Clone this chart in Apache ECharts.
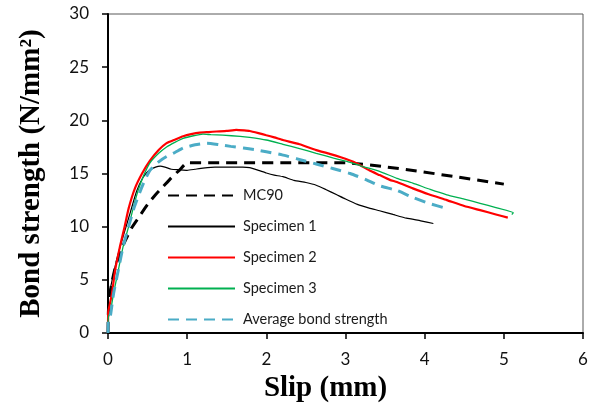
<!DOCTYPE html>
<html><head><meta charset="utf-8">
<script src="https://cdn.jsdelivr.net/npm/echarts@6/dist/echarts.min.js"></script>
<style>html,body{margin:0;padding:0;background:#fff}#c{width:606px;height:408px}</style>
</head><body><div id="c"></div>
<script>
const xTicks = [0, 1, 2, 3, 4, 5, 6];
const yTicks = [0, 5, 10, 15, 20, 25, 30];
const seriesNames = ['MC90', 'Specimen 1', 'Specimen 2', 'Specimen 3', 'Average bond strength'];

const mc90 = [[0,0],[0.005,2.0],[0.02,3.4],[0.05,4.8],[0.1,6.4],[0.2,8.4],[0.3,9.9],[0.4,11.0],[0.5,12.1],[0.6,13.0],[0.7,13.8],[0.8,14.6],[0.9,15.3],[1.0,16.0],[3.0,16.0],[5.0,14.0]];

const specimen1 = [[0,0],[0.003,3.4],[0.03,4.2],[0.07,5.6],[0.12,7.2],[0.2,9.3],[0.28,11.3],[0.36,13.3],[0.44,14.6],[0.52,15.3],[0.6,15.6],[0.66,15.7],[0.72,15.6],[0.8,15.4],[0.9,15.35],[1.0,15.3],[1.1,15.4],[1.2,15.5],[1.35,15.6],[1.5,15.6],[1.7,15.6],[1.79,15.55],[1.9,15.3],[2.0,15.05],[2.1,14.85],[2.21,14.7],[2.35,14.35],[2.5,14.15],[2.63,13.9],[2.75,13.5],[2.89,13.0],[3.0,12.6],[3.15,12.1],[3.3,11.75],[3.43,11.5],[3.6,11.15],[3.77,10.8],[3.95,10.55],[4.11,10.3]];

const specimen2 = [[0,0],[0.003,2.0],[0.02,2.6],[0.05,3.7],[0.09,5.9],[0.15,8.1],[0.21,10.0],[0.26,11.7],[0.34,13.6],[0.43,15.0],[0.53,16.2],[0.64,17.2],[0.74,17.85],[0.85,18.2],[0.95,18.5],[1.05,18.7],[1.16,18.85],[1.27,18.9],[1.37,18.95],[1.5,19.0],[1.62,19.1],[1.72,19.05],[1.79,19.0],[1.9,18.8],[2.0,18.6],[2.1,18.4],[2.21,18.15],[2.42,17.75],[2.63,17.2],[2.8,16.85],[2.95,16.5],[3.1,16.1],[3.18,15.8],[3.3,15.3],[3.43,14.85],[3.56,14.4],[3.65,14.2],[3.85,13.6],[4.05,13.05],[4.28,12.5],[4.5,11.95],[4.7,11.55],[4.9,11.15],[5.05,10.85]];

const specimen3 = [[0,0],[0.005,1.5],[0.03,2.0],[0.07,3.7],[0.13,5.9],[0.19,8.1],[0.26,10.0],[0.32,11.8],[0.38,13.4],[0.45,14.8],[0.53,16.0],[0.64,16.9],[0.74,17.5],[0.85,17.95],[0.95,18.3],[1.08,18.55],[1.2,18.7],[1.3,18.65],[1.45,18.6],[1.67,18.5],[1.79,18.4],[2.0,18.15],[2.21,17.75],[2.42,17.35],[2.63,16.9],[2.85,16.45],[3.06,16.05],[3.2,15.7],[3.43,15.2],[3.65,14.55],[3.85,14.1],[4.07,13.5],[4.28,13.0],[4.5,12.6],[4.7,12.2],[4.9,11.8],[5.12,11.3],[5.1,11.15]];

const average = [[0,0],[0.005,1.2],[0.03,1.6],[0.07,3.7],[0.13,5.9],[0.19,8.1],[0.26,10.0],[0.33,11.8],[0.4,13.2],[0.46,14.3],[0.53,15.3],[0.64,16.1],[0.74,16.6],[0.85,17.0],[0.95,17.4],[1.1,17.7],[1.25,17.85],[1.41,17.7],[1.55,17.55],[1.71,17.4],[1.85,17.25],[2.0,17.05],[2.2,16.75],[2.38,16.4],[2.5,16.15],[2.63,15.9],[2.85,15.45],[3.06,15.0],[3.25,14.45],[3.43,13.85],[3.65,13.4],[3.85,12.75],[4.05,12.2],[4.28,11.7]];

const chart = echarts.init(document.getElementById('c'), null, {renderer: 'canvas'});
const tickFont = {fontFamily: 'Lato', fontSize: 17, color: '#111'};
const nameFont = {fontFamily: 'Liberation Serif', fontWeight: 'bold', fontSize: 29, color: '#000'};
function line(name, data, color, width, type) {
  return {name, type: 'line', data, symbol: 'none', showSymbol: false, smooth: 0.15,
    lineStyle: {color, width, type}, itemStyle: {color}, animation: false};
}
chart.setOption({
  animation: false,
  grid: {left: 108, right: 23, top: 14, bottom: 75, show: true, borderColor: '#595959', borderWidth: 1},
  xAxis: {type: 'value', min: xTicks[0], max: xTicks[xTicks.length-1], interval: 1,
    name: 'Slip (mm)', nameLocation: 'middle', nameGap: 41,
    nameTextStyle: {...nameFont, padding: [0, 40, 0, 0]},
    axisLine: {show: true, onZero: false, lineStyle: {color: '#000', width: 2}},
    axisTick: {show: true, inside: false, length: 6, lineStyle: {color: '#000', width: 1.5}},
    axisLabel: {...tickFont, margin: 18},
    splitLine: {show: false}},
  yAxis: {type: 'value', min: yTicks[0], max: yTicks[yTicks.length-1], interval: 5,
    name: 'Bond strength (N/mm²)', nameLocation: 'middle', nameGap: 62, nameTextStyle: nameFont,
    axisLine: {show: true, onZero: false, lineStyle: {color: '#000', width: 2}},
    axisTick: {show: true, inside: false, length: 6, lineStyle: {color: '#000', width: 1.5}},
    axisLabel: {...tickFont, margin: 19},
    splitLine: {show: false}},
  legend: {orient: 'vertical', left: 167, top: 188, padding: 0, itemWidth: 67, itemHeight: 14, itemGap: 16,
    data: seriesNames, itemStyle: {opacity: 0},
    textStyle: {fontFamily: 'Lato', fontSize: 14.5, color: '#1a1a1a', padding: [0,0,0,3]}},
  series: [
    line(seriesNames[0], mc90, '#000000', 3, [11, 7]),
    line(seriesNames[1], specimen1, '#000000', 1.2, 'solid'),
    line(seriesNames[2], specimen2, '#ff0000', 2.2, 'solid'),
    line(seriesNames[3], specimen3, '#00b050', 1.3, 'solid'),
    line(seriesNames[4], average, '#4bacc6', 3, [11, 7])
  ]
});
</script></body></html>
